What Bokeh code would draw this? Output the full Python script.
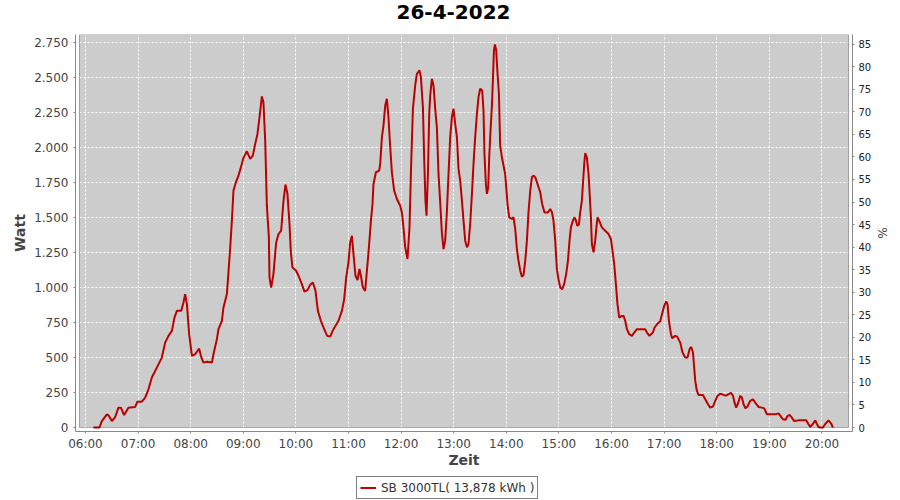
from bokeh.plotting import figure
from bokeh.layouts import column
from bokeh.models import (Range1d, LinearAxis, FixedTicker, BoxAnnotation,
                          Legend, LegendItem, ColumnDataSource)
from bokeh.embed import file_html
from bokeh.resources import INLINE

# ---------------- data ----------------
title_text = "26-4-2022"
series_name = "SB 3000TL( 13,878 kWh )"
x_label = "Zeit"
y_label = "Watt"
y2_label = "%"

# time of day in minutes after midnight
time_min = [
    369.1, 376.0, 378.7, 384.4, 386.5, 390.1, 393.9, 397.6, 400.4, 404.1, 409.0, 416.7, 419.3, 424.3,
    428.1, 431.9, 435.7, 441.4, 447.1, 450.9, 454.7, 458.6, 461.5, 464.3, 469.2, 471.8, 473.7, 475.7,
    478.3, 481.4, 485.1, 489.7, 492.0, 494.6, 498.5, 504.2, 506.0, 509.9, 511.7, 515.6, 517.4, 521.3,
    523.1, 525.1, 527.0, 528.8, 531.6, 534.5, 537.3, 540.2, 544.1, 547.9, 550.9, 553.6, 556.2, 558.5,
    561.2, 563.0, 565.0, 566.9, 569.2, 569.9, 571.8, 574.4, 577.5, 580.2, 583.2, 585.9, 588.1, 590.4,
    592.7, 594.3, 596.1, 600.3, 603.0, 606.8, 609.8, 613.2, 616.3, 619.4, 622.4, 625.1, 628.5, 632.3,
    635.7, 639.1, 642.9, 648.6, 652.5, 655.1, 657.4, 660.0, 661.9, 663.9, 665.7, 668.0, 670.3, 672.5,
    674.5, 676.4, 679.0, 681.7, 683.6, 685.6, 687.4, 688.5, 691.3, 695.0, 696.2, 698.1, 699.9, 701.9,
    703.8, 705.6, 707.6, 709.5, 712.1, 715.2, 719.0, 720.9, 722.7, 724.7, 727.3, 729.6, 731.5, 733.5,
    736.1, 738.0, 741.0, 742.6, 744.9, 746.4, 747.8, 749.0, 750.6, 752.1, 753.2, 755.1, 757.0, 758.9,
    760.8, 762.7, 764.6, 766.5, 768.4, 770.3, 772.2, 774.1, 776.0, 777.9, 779.8, 781.7, 783.7, 785.5,
    787.4, 789.4, 791.2, 793.1, 795.1, 796.9, 798.8, 800.8, 802.6, 804.5, 806.5, 808.3, 810.2, 812.5,
    814.0, 815.1, 816.7, 817.9, 819.4, 820.5, 822.0, 823.6, 824.7, 825.9, 827.0, 828.5, 830.0, 831.6,
    833.0, 835.0, 836.8, 838.7, 839.9, 841.4, 843.3, 846.4, 848.2, 850.2, 852.1, 853.9, 855.9, 857.8,
    859.6, 861.6, 863.5, 865.3, 867.3, 869.2, 871.0, 873.0, 875.6, 878.7, 880.9, 883.6, 887.5, 890.1,
    892.0, 893.8, 895.8, 897.7, 899.5, 901.5, 903.8, 906.0, 908.3, 910.3, 912.1, 913.7, 916.0, 917.8,
    919.4, 920.9, 922.8, 924.3, 926.2, 927.4, 928.9, 930.0, 931.9, 933.8, 934.9, 936.5, 937.6, 939.5,
    941.4, 942.6, 944.0, 946.3, 949.0, 952.8, 956.6, 959.3, 961.1, 963.1, 965.0, 966.8, 968.8, 971.9,
    973.7, 975.6, 977.6, 980.2, 983.3, 985.9, 989.0, 994.7, 998.4, 1000.4, 1003.3, 1007.2, 1009.1, 1012.5,
    1015.5, 1017.8, 1020.1, 1022.4, 1023.9, 1025.5, 1027.8, 1029.2, 1032.7, 1034.9, 1038.4, 1041.0, 1044.1, 1046.7,
    1049.0, 1050.9, 1052.9, 1054.3, 1055.5, 1057.4, 1059.2, 1064.3, 1066.9, 1070.0, 1072.6, 1075.7, 1078.3, 1080.9,
    1084.0, 1087.8, 1090.8, 1093.5, 1096.2, 1098.5, 1100.3, 1102.2, 1104.5, 1106.8, 1108.7, 1110.6, 1112.8, 1115.1,
    1118.2, 1121.3, 1123.9, 1127.7, 1131.6, 1134.2, 1137.3, 1143.0, 1146.7, 1150.5, 1152.4, 1155.5, 1158.5, 1160.8,
    1163.0, 1165.8, 1168.4, 1173.3, 1179.0, 1182.1, 1184.7, 1186.7, 1189.7, 1192.4, 1194.3, 1196.1, 1198.1, 1201.1,
    1203.8, 1207.5, 1210.3, 1212.6,
]
watt = [
    0, 0, 46, 94, 85, 46, 75, 142, 142, 89, 142, 147, 185, 185,
    213, 273, 357, 428, 500, 607, 655, 691, 786, 834, 834, 894, 954, 882,
    667, 512, 524, 564, 505, 464, 470, 464, 524, 632, 703, 763, 858, 954,
    1108, 1288, 1479, 1694, 1753, 1801, 1860, 1928, 1975, 1921, 1944, 2028, 2099, 2218,
    2367, 2326, 2052, 1586, 1359, 1073, 1001, 1097, 1323, 1383, 1407, 1622, 1737, 1670,
    1455, 1252, 1144, 1121, 1085, 1025, 972, 982, 1020, 1037, 977, 834, 763, 703,
    655, 650, 703, 763, 834, 918, 1073, 1180, 1323, 1371, 1240, 1085, 1054, 1133,
    1073, 1001, 977, 1169, 1312, 1479, 1598, 1741, 1825, 1837, 1885, 2075, 2159, 2302,
    2350, 2218, 2004, 1825, 1694, 1634, 1586, 1538, 1431, 1288, 1205, 1431, 1885, 2279,
    2446, 2529, 2553, 2505, 2290, 1908, 1622, 1515, 1813, 2243, 2374, 2493, 2446, 2279,
    2147, 1813, 1610, 1395, 1276, 1336, 1538, 1813, 2075, 2218, 2279, 2171, 2075, 1849,
    1765, 1622, 1479, 1336, 1288, 1312, 1455, 1670, 1885, 2075, 2243, 2362, 2422, 2410,
    2267, 1956, 1741, 1670, 1720, 1932, 2123, 2302, 2481, 2696, 2739, 2696, 2529, 2386,
    2016, 1932, 1873, 1813, 1717, 1598, 1503, 1491, 1503, 1419, 1276, 1192, 1121, 1078,
    1090, 1192, 1336, 1538, 1694, 1789, 1801, 1790, 1741, 1682, 1598, 1538, 1538, 1562,
    1540, 1479, 1336, 1133, 1061, 1001, 989, 1025, 1097, 1192, 1336, 1431, 1479, 1503,
    1480, 1443, 1450, 1538, 1622, 1741, 1885, 1961, 1932, 1813, 1694, 1503, 1312, 1252,
    1336, 1419, 1503, 1474, 1431, 1407, 1383, 1348, 1264, 1169, 1025, 882, 786, 798,
    798, 763, 703, 667, 655, 679, 703, 703, 703, 679, 655, 679, 715, 743,
    758, 815, 870, 901, 880, 763, 667, 639, 655, 650, 607, 536, 500, 500,
    560, 576, 536, 428, 333, 261, 233, 233, 202, 166, 142, 150, 190, 226,
    242, 233, 228, 238, 247, 228, 178, 142, 175, 226, 215, 166, 137, 150,
    190, 202, 178, 147, 142, 137, 94, 94, 94, 101, 85, 59, 55, 82,
    90, 70, 46, 51, 51, 51, 23, 4, 25, 51, 25, 4, 0, 0,
    25, 51, 30, 0,
]

hour_ticks = [360, 420, 480, 540, 600, 660, 720, 780, 840, 900, 960, 1020, 1080, 1140, 1200]
hour_labels = ["06:00", "07:00", "08:00", "09:00", "10:00", "11:00", "12:00", "13:00",
               "14:00", "15:00", "16:00", "17:00", "18:00", "19:00", "20:00"]
watt_ticks = [0, 250, 500, 750, 1000, 1250, 1500, 1750, 2000, 2250, 2500, 2750]
watt_labels = ["0", "250", "500", "750", "1.000", "1.250", "1.500", "1.750",
               "2.000", "2.250", "2.500", "2.750"]
pct_ticks = [0, 5, 10, 15, 20, 25, 30, 35, 40, 45, 50, 55, 60, 65, 70, 75, 80, 85]

# axis extents of the plot area
x_lo, x_hi = 353.2, 1230.3
w_hi = 2810.0
pct_hi = 87.15

# ---------------- layout ----------------
W = 900
H_TITLE, H_MAIN, H_LEG = 32, 444, 24
MB_L, MB_R, MB_T, MB_B = 75, 48, 2, 45
GAP = 4  # axis offset (px) from plot area
frame_w = W - MB_L - MB_R
frame_h = H_MAIN - MB_T - MB_B
inner_w = frame_w - 2 * GAP
inner_h = frame_h - GAP
mpp = (x_hi - x_lo) / inner_w
wpp = w_hi / inner_h
ppp = pct_hi / inner_h

FONT = "DejaVu Sans"
LABEL_COLOR = "#444444"
AXIS_COLOR = "#888888"
LINE_COLOR = "#BB0000"


def strip(height):
    f = figure(width=W, height=height, output_backend="svg", toolbar_location=None,
               x_range=Range1d(0, 1), y_range=Range1d(-1, 0),
               x_axis_type=None, y_axis_type=None,
               min_border_left=0, min_border_right=0, min_border_top=0, min_border_bottom=0)
    f.background_fill_color = "white"
    f.border_fill_color = "white"
    f.outline_line_color = None
    f.grid.visible = False
    return f


# ---------------- title strip ----------------
tf = strip(H_TITLE)
tf.title.text = title_text
tf.title.align = "left"
tf.title.offset = 321
tf.title.vertical_align = "top"
tf.title.standoff = 8
tf.title.text_font = FONT
tf.title.text_font_size = "20px"
tf.title.text_font_style = "bold"
tf.title.text_color = "black"

# ---------------- main chart ----------------
p = figure(width=W, height=H_MAIN, output_backend="svg", toolbar_location=None,
           title=None,
           x_range=Range1d(x_lo - GAP * mpp, x_hi + GAP * mpp),
           y_range=Range1d(-GAP * wpp, w_hi),
           min_border_left=MB_L, min_border_right=MB_R,
           min_border_top=MB_T, min_border_bottom=MB_B)
p.extra_y_ranges = {"pct": Range1d(-GAP * ppp, pct_hi)}

p.background_fill_color = "white"
p.border_fill_color = "white"
p.outline_line_color = None

# plot area (gray) and its border
p.add_layout(BoxAnnotation(left=x_lo, right=x_hi, bottom=0, top=w_hi,
                           fill_color="#CCCCCC", fill_alpha=1.0, line_color=None,
                           level="image"))
p.add_layout(BoxAnnotation(left=x_lo, right=x_hi, bottom=0, top=w_hi,
                           fill_color=None, fill_alpha=0.0, line_color="black",
                           line_width=1, level="overlay"))

# x axis
xa = p.xaxis[0]
xa.ticker = FixedTicker(ticks=hour_ticks)
xa.major_label_overrides = {t: l for t, l in zip(hour_ticks, hour_labels)}
xa.axis_label = x_label
# y axis
ya = p.yaxis[0]
ya.ticker = FixedTicker(ticks=watt_ticks)
ya.major_label_overrides = {t: l for t, l in zip(watt_ticks, watt_labels)}
ya.axis_label = y_label
# right axis
ra = LinearAxis(y_range_name="pct", ticker=FixedTicker(ticks=pct_ticks), axis_label=y2_label)
p.add_layout(ra, "right")

for ax in (xa, ya, ra):
    ax.axis_line_color = AXIS_COLOR
    ax.major_tick_line_color = AXIS_COLOR
    ax.major_tick_in = 0
    ax.major_tick_out = 2
    ax.minor_tick_line_color = None
    ax.major_label_text_font = FONT
    ax.major_label_text_font_size = "12px"
    ax.major_label_text_color = LABEL_COLOR
    ax.axis_label_text_font = FONT
    ax.axis_label_text_font_size = "14px"
    ax.axis_label_text_font_style = "bold"
    ax.axis_label_text_color = LABEL_COLOR
xa.major_label_standoff = 3
xa.axis_label_standoff = -2
ya.major_label_standoff = 5
ya.axis_label_standoff = 3
ra.major_label_standoff = 4
ra.major_label_text_font_size = "10px"
ra.major_label_text_color = "#222222"
ra.axis_label_text_font_style = "normal"
ra.axis_label_text_font_size = "12px"
ra.axis_label_standoff = 1

p.xgrid.ticker = FixedTicker(ticks=hour_ticks)
p.ygrid.ticker = FixedTicker(ticks=watt_ticks)
for g in (p.xgrid, p.ygrid):
    g.grid_line_color = "white"
    g.grid_line_dash = "2 2"
    g.grid_line_width = 1

src = ColumnDataSource(data=dict(t=time_min, w=watt))
r = p.line(x="t", y="w", source=src, line_color=LINE_COLOR, line_width=2)

# ---------------- legend strip below the chart ----------------
lf = strip(H_LEG)
# same series, outside this strip's ranges: only its legend entry shows
r_leg = lf.line(x="t", y="w", source=src, line_color=LINE_COLOR, line_width=2)

legend = Legend(items=[LegendItem(label=series_name, renderers=[r_leg])],
                location=(281, 1), orientation="horizontal",
                border_line_color="black", border_line_width=1,
                background_fill_color="white", background_fill_alpha=1.0,
                padding=3, margin=0, glyph_width=16, glyph_height=15,
                label_standoff=5, spacing=0,
                label_text_font=FONT, label_text_font_size="12px",
                label_text_color="#333333")
lf.add_layout(legend, "center")

layout = column(tf, p, lf, spacing=0)
open("out.html", "w").write(file_html(layout, INLINE))
